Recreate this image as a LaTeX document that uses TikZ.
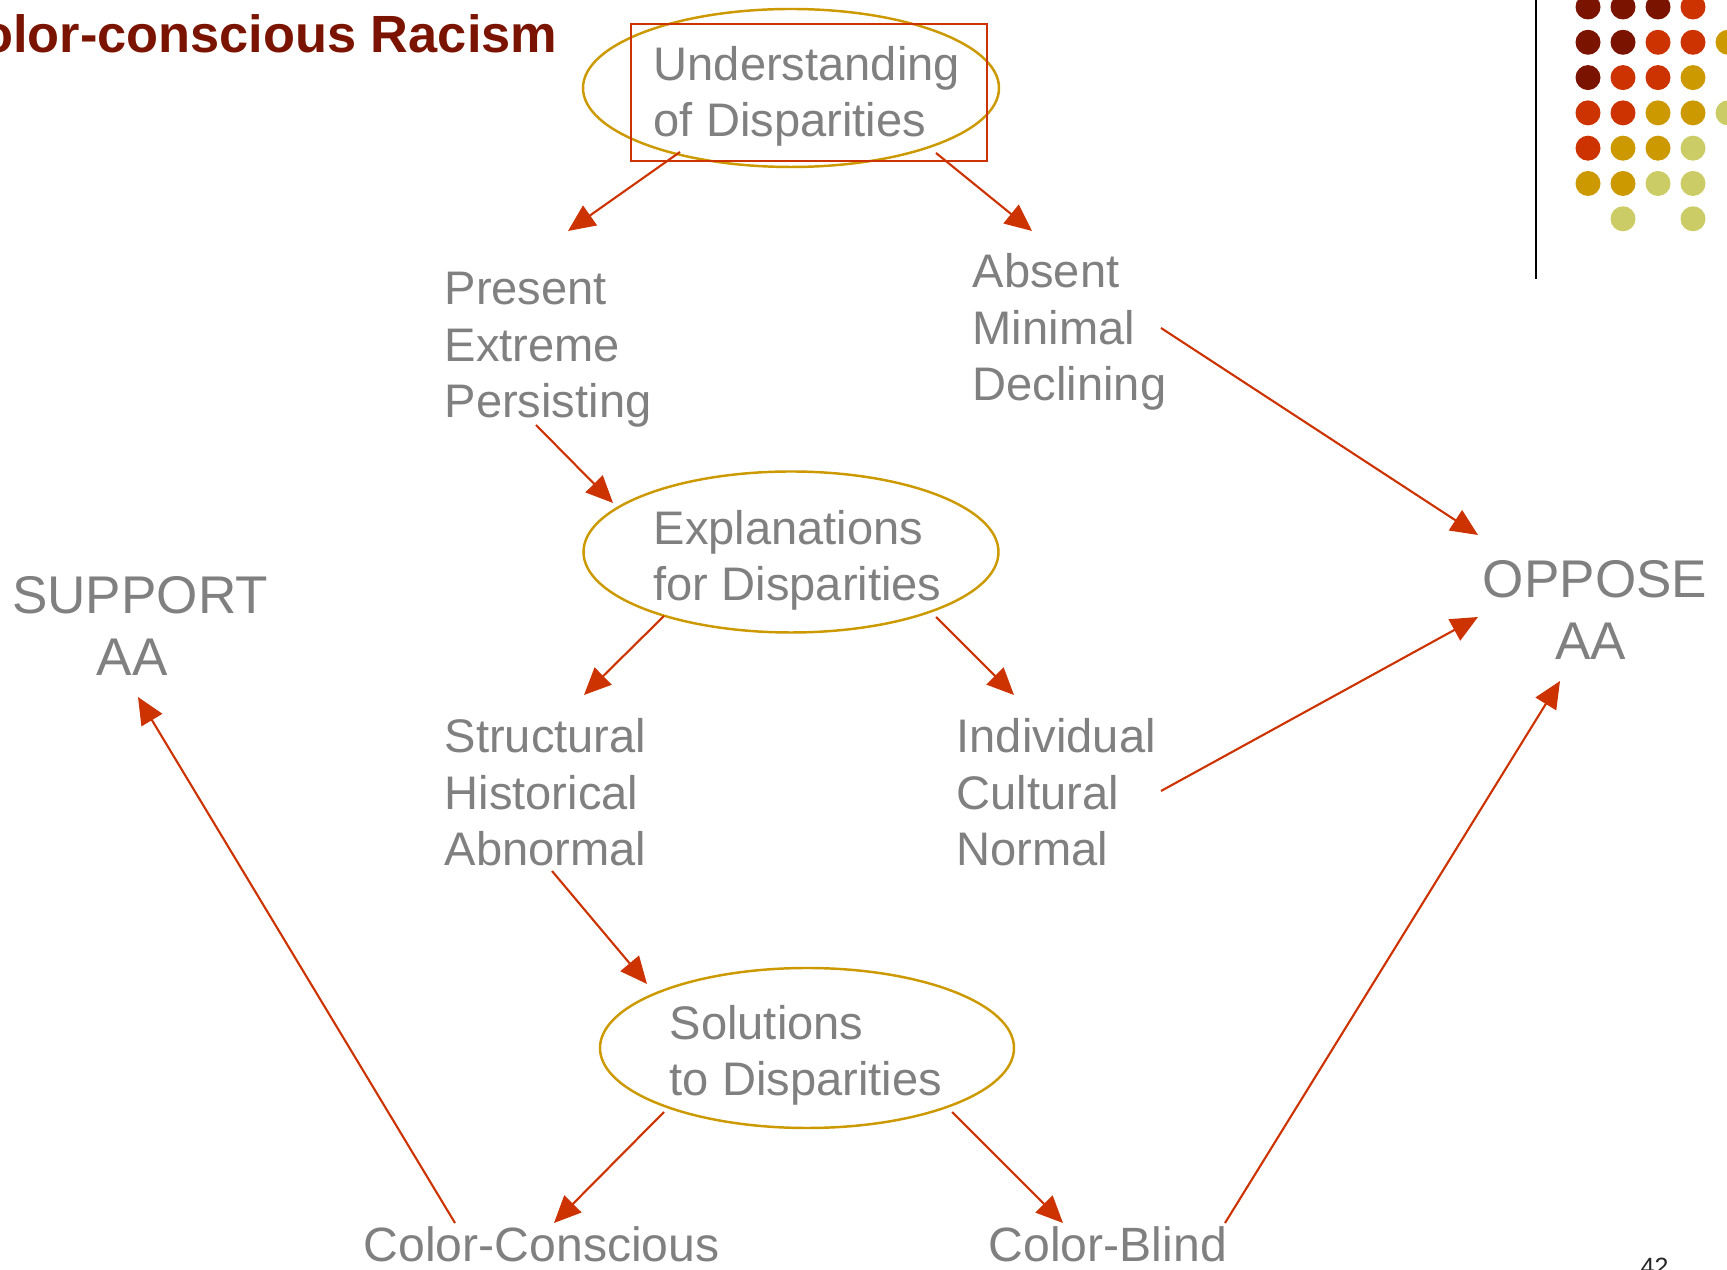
\documentclass[tikz,border=0pt]{standalone}
\usepackage{fontspec}
\setmainfont{Liberation Sans}
\usetikzlibrary{arrows.meta,shapes.geometric}

\definecolor{txtgray}{RGB}{128,128,128}
\definecolor{linkred}{RGB}{204,51,0}
\definecolor{ringgold}{RGB}{204,153,0}
\definecolor{deepred}{RGB}{122,20,0}
\definecolor{paleolive}{RGB}{204,204,102}

% multi-line labels are placed by the baseline of their last line
\tikzset{
  lbl/.style={inner sep=0pt, anchor=base west, text=txtgray, align=left,
    font=\fontsize{13.4pt}{16.2pt}\selectfont},
  biglbl/.style={inner sep=0pt, anchor=base, text=txtgray, align=center,
    font=\fontsize{15.1pt}{17.9pt}\selectfont},
  ring/.style={draw=ringgold, line width=0.7pt, ellipse, inner sep=0pt},
  link/.style={draw=linkred, line width=0.6pt, -{Triangle[length=2.7mm,width=2.4mm]}},
  dot/.style={fill=#1, draw=none},
}

\begin{document}
\begin{tikzpicture}[x=0.1mm, y=-0.1mm]
\useasboundingbox (0,0) rectangle (1727,1270);

% slide title
\node[anchor=base east, inner sep=0pt, text=deepred,
  font=\bfseries\fontsize{14.9pt}{18pt}\selectfont] (title) at (558,53) {Color-conscious Racism};

% decorative dot grid and rule
\draw[line width=0.6pt, black] (1536,0) -- (1536,279);
\foreach \c/\r/\col in {
  0/0/deepred, 1/0/deepred, 2/0/deepred, 3/0/linkred,
  0/1/deepred, 1/1/deepred, 2/1/linkred, 3/1/linkred, 4/1/ringgold,
  0/2/deepred, 1/2/linkred, 2/2/linkred, 3/2/ringgold,
  0/3/linkred, 1/3/linkred, 2/3/ringgold, 3/3/ringgold, 4/3/paleolive,
  0/4/linkred, 1/4/ringgold, 2/4/ringgold, 3/4/paleolive,
  0/5/ringgold, 1/5/ringgold, 2/5/paleolive, 3/5/paleolive,
  1/6/paleolive, 3/6/paleolive}
  \fill[dot=\col] ({1588+35*\c},{7+35.3*\r}) circle[radius=12.5];

% understanding
\node[ring, minimum width=41.6mm, minimum height=15.8mm] (und) at (791,88) {};
\draw[draw=linkred, line width=0.6pt] (631,24) rectangle (987,161);
\node[lbl] (undtxt) at (653,137) {Understanding\\of Disparities};

\node[lbl] (present) at (444,418) {Present\\Extreme\\Persisting};
\node[lbl] (absent) at (972,401) {Absent\\Minimal\\Declining};

% explanations
\node[ring, minimum width=41.5mm, minimum height=16.1mm] (expl) at (791,552) {};
\node[lbl] (expltxt) at (653,601) {Explanations\\for Disparities};

\node[lbl] (struct) at (444,866) {Structural\\Historical\\Abnormal};
\node[lbl] (indiv) at (956,866) {Individual\\Cultural\\Normal};

% solutions
\node[ring, minimum width=41.4mm, minimum height=16mm] (sol) at (807,1048) {};
\node[lbl] (soltxt) at (669,1096) {Solutions\\to Disparities};

\node[lbl, font=\fontsize{13.7pt}{16pt}\selectfont] (conscious) at (363,1262) {Color-Conscious};
\node[lbl, font=\fontsize{13.7pt}{16pt}\selectfont] (blind) at (988,1262) {Color-Blind};

% positions
\node[biglbl] (support) at (140,676) {SUPPORT\\AA\hspace*{1.6mm}};
\node[biglbl] (oppose) at (1595,660) {OPPOSE\\AA\hspace*{0.9mm}};

% page number
\node[anchor=base west, inner sep=0pt, text=black!85, font=\fontsize{7.1pt}{8pt}\selectfont] (pagenum) at (1640,1276) {42};

% connector end points
\coordinate (undL) at (680,152);
\coordinate (undR) at (936,153);
\coordinate (presentIn) at (568,231);
\coordinate (absentIn) at (1032,231);
\coordinate (presentOut) at (536,425);
\coordinate (explIn) at (613,503);
\coordinate (absentOut) at (1161,328);
\coordinate (opposeInA) at (1478,535);
\coordinate (explL) at (664,616);
\coordinate (explR) at (936,617);
\coordinate (structIn) at (584,695);
\coordinate (indivIn) at (1014,695);
\coordinate (indivOut) at (1161,791);
\coordinate (opposeInB) at (1478,617);
\coordinate (structOut) at (552,871);
\coordinate (solIn) at (647,984);
\coordinate (solL) at (664,1112);
\coordinate (solR) at (952,1112);
\coordinate (consciousIn) at (554,1223);
\coordinate (blindIn) at (1063,1223);
\coordinate (consciousOut) at (455,1223);
\coordinate (supportIn) at (138,697);
\coordinate (blindOut) at (1225,1223);
\coordinate (opposeInC) at (1560,681);

% connectors
\draw[link] (undL) -- (presentIn);
\draw[link] (undR) -- (absentIn);
\draw[link] (presentOut) -- (explIn);
\draw[link] (absentOut) -- (opposeInA);
\draw[link] (explL) -- (structIn);
\draw[link] (explR) -- (indivIn);
\draw[link] (indivOut) -- (opposeInB);
\draw[link] (structOut) -- (solIn);
\draw[link] (solL) -- (consciousIn);
\draw[link] (solR) -- (blindIn);
\draw[link] (consciousOut) -- (supportIn);
\draw[link] (blindOut) -- (opposeInC);
\end{tikzpicture}
\end{document}
